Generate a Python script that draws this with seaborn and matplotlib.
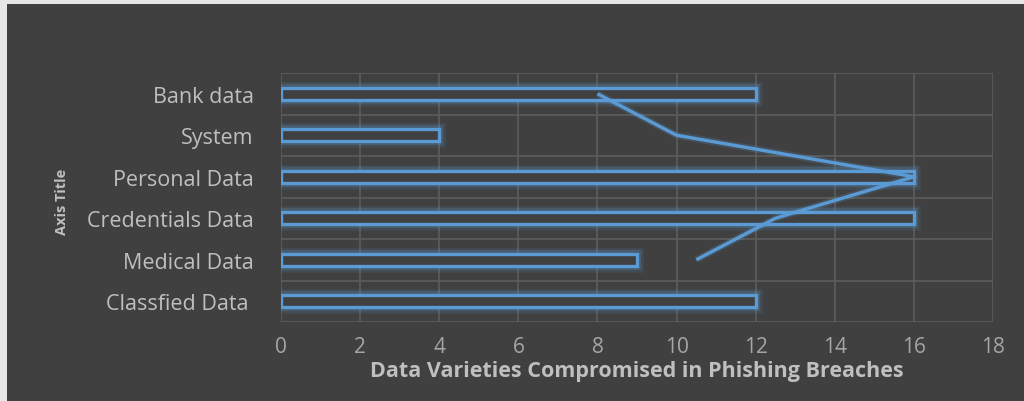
import numpy as np
import pandas as pd
import matplotlib
matplotlib.use("Agg")
import matplotlib.pyplot as plt
import matplotlib.patheffects as pe
from matplotlib.patches import Rectangle
import seaborn as sns

# Data
categories = ["Bank data", "System", "Personal Data", "Credentials Data",
              "Medical Data", "Classfied Data "]
bar_values = [12, 4, 16, 16, 9, 12]
line_values = [8, 10, 16, 12.5, 10.5]
x_ticks = [0, 2, 4, 6, 8, 10, 12, 14, 16, 18]

BG = "#404040"
BLUE = "#5b9bd5"
GRID = "#5c5c5c"
TXT = "#bfbfbf"
FRAME = "#e6e6e6"

sns.set_theme(style="dark")
plt.rcParams["font.family"] = ["Open Sans", "DejaVu Sans"]

fig = plt.figure(figsize=(10.24, 4.02), dpi=100, facecolor=BG)
# thin light frame along the left and top edges
fig.patches.append(Rectangle((0, 0), 7 / 1024, 1, transform=fig.transFigure,
                             facecolor=FRAME, edgecolor="none", zorder=-1))
fig.patches.append(Rectangle((0, 1 - 5 / 402), 1, 5 / 402, transform=fig.transFigure,
                             facecolor=FRAME, edgecolor="none", zorder=-1))
ax = fig.add_axes([281 / 1024, 1 - 323 / 402, (993 - 281) / 1024, (323 - 74) / 402])
ax.set_facecolor(BG)

df = pd.DataFrame({"category": categories, "value": bar_values})
sns.barplot(data=df, x="value", y="category", orient="h", ax=ax,
            color=BG, edgecolor=BLUE, linewidth=2.4, width=0.3, zorder=3)

glow = [pe.Stroke(linewidth=9, foreground=BLUE, alpha=0.12),
        pe.Stroke(linewidth=6, foreground=BLUE, alpha=0.22),
        pe.Normal()]
for p in ax.patches:
    p.set_path_effects(glow)

ax.plot(line_values, np.arange(len(line_values)), color=BLUE, linewidth=2.4,
        zorder=4, solid_capstyle="butt",
        path_effects=[pe.Stroke(linewidth=5, foreground=BLUE, alpha=0.2), pe.Normal()])

ax.set_xlim(0, 18)
ax.set_ylim(len(categories) - 0.5, -0.5)
ax.set_xticks(x_ticks)
ax.set_xticklabels([str(t) for t in x_ticks])
ax.set_yticks(np.arange(len(categories)))
ax.set_yticklabels(categories)
ax.set_yticks(np.arange(-0.5, len(categories), 1), minor=True)

ax.grid(False)
ax.grid(True, axis="x", which="major", color=GRID, linewidth=1.2, zorder=0)
ax.grid(True, axis="y", which="minor", color=GRID, linewidth=1.2, zorder=0)
ax.set_axisbelow(True)
for s in ax.spines.values():
    s.set_visible(False)

ax.tick_params(axis="both", which="both", length=0)
ax.tick_params(axis="y", pad=19.5, labelsize=15.5, labelcolor=TXT)
ax.tick_params(axis="x", pad=10, labelsize=15, labelcolor="#a6a6a6")

ax.set_xlabel("Data Varieties Compromised in Phishing Breaches", fontsize=15.5,
              fontweight="bold", color=TXT, labelpad=2.5)
ax.set_ylabel("")
fig.text(62 / 1024, 1 - 202 / 402, "Axis Title", rotation=90, fontsize=10.5,
         fontweight="bold", color=TXT, ha="center", va="center")

fig.savefig("out.png", dpi=100, facecolor=fig.get_facecolor())
